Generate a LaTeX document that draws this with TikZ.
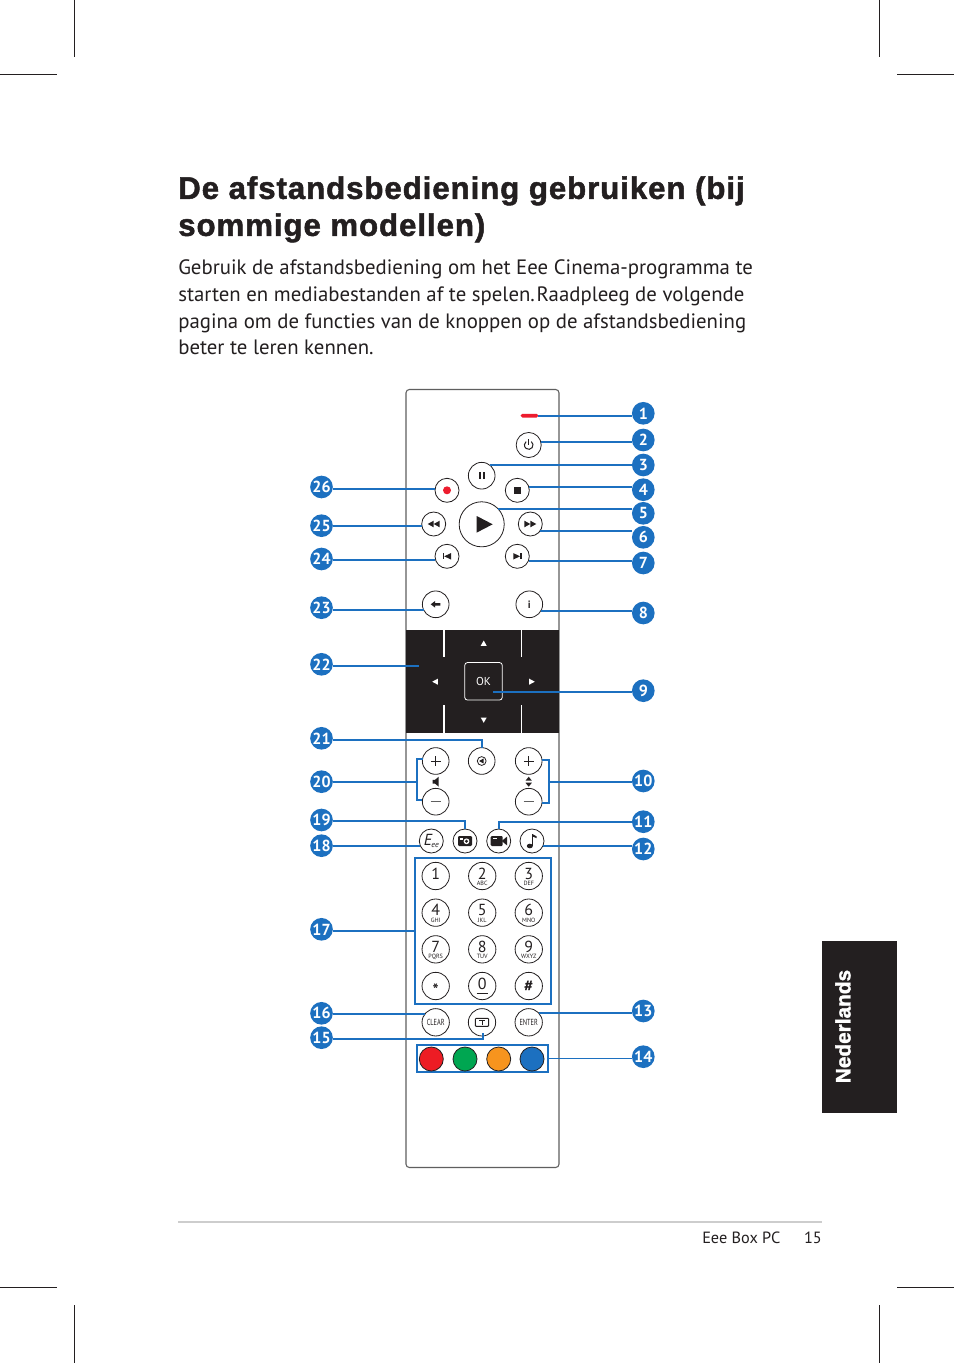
\documentclass[tikz,border=0pt]{standalone}
\usepackage{fontspec}
\usepackage{graphicx}
\setmainfont{PT Sans}
\newfontfamily\headfont[BoldFeatures={FakeBold=1.6}]{Liberation Sans}
\newfontfamily\widefont[BoldFeatures={FakeBold=1.6,LetterSpace=3}]{Liberation Sans}
\usetikzlibrary{positioning,calc}
\definecolor{ink}     {RGB}{35, 31, 32}
\definecolor{edgegray}{RGB}{95, 95, 95}
\definecolor{rulegray}{RGB}{205,205,205}
\definecolor{callblue}{RGB}{28,112,192}
\definecolor{ledred}  {RGB}{237, 28, 46}
\definecolor{btnred}  {RGB}{237, 28, 36}
\definecolor{btngreen}{RGB}{0, 166, 81}
\definecolor{btnorange}{RGB}{247,148, 30}
\tikzset{
  badge/.style={circle,fill=callblue,text=white,inner sep=0pt,minimum size=17pt,
                font=\fontsize{12}{12}\selectfont\bfseries},
  lead/.style={draw=callblue,line width=1.35pt},
  leadbox/.style={lead,inner sep=0pt,outer sep=0pt},
  btn/.style={circle,draw=ink,fill=white,line width=0.6pt,inner sep=0pt,outer sep=0pt,
              minimum size=18pt},
  btnbig/.style={btn,minimum size=20pt},
  numkey/.style 2 args={btn,minimum size=20.5pt,
              label={[keynum]center:#1},label={[keysub]center:#2}},
  keynum/.style={font=\fontsize{12}{12}\selectfont,yshift=1.8pt,inner sep=0pt},
  keysub/.style={font=\fontsize{4.6}{4.6}\selectfont,yshift=-5.6pt,inner sep=0pt},
  colbtn/.style={btn,minimum size=18pt},
  crop/.style={draw=ink,line width=0.5pt},
  pics/tridown/.style={code={\fill (-3,-2.5) -- (3,-2.5) -- (0,2.8) -- cycle;}},
  pics/triup/.style={code={\fill (-3,2.5) -- (3,2.5) -- (0,-2.8) -- cycle;}},
  pics/trileft/.style={code={\fill (2.8,-3) -- (2.8,3) -- (-2.8,0) -- cycle;}},
  pics/triright/.style={code={\fill (-2.8,-3) -- (-2.8,3) -- (2.8,0) -- cycle;}},
  pics/poweric/.style={code={
    \draw[line width=0.75pt] (2.6,-3.4) arc (-53:233:4.3);
    \draw[line width=0.75pt] (0,-6) -- (0,-0.5);}},
  pics/pauseic/.style={code={\fill (-3.2,-3.4) rectangle (-1,3.4);\fill (1,-3.4) rectangle (3.2,3.4);}},
  pics/rewic/.style={code={\fill (0,-3.3) -- (0,3.3) -- (-6,0) -- cycle;\fill (6,-3.3) -- (6,3.3) -- (0,0) -- cycle;}},
  pics/fwdic/.style={code={\fill (0,-3.3) -- (0,3.3) -- (6,0) -- cycle;\fill (-6,-3.3) -- (-6,3.3) -- (0,0) -- cycle;}},
  pics/previc/.style={code={\fill (-4.2,-3) rectangle (-2.8,3);\fill (4,-3.2) -- (4,3.2) -- (-2.8,0) -- cycle;}},
  pics/nextic/.style={code={\fill (4.2,-3) rectangle (2.8,3);\fill (-4,-3.2) -- (-4,3.2) -- (2.8,0) -- cycle;}},
  pics/backic/.style={code={\fill (-5,0) -- (-0.5,-3.4) -- (-0.5,-1.3) -- (4.6,-1.3) -- (4.6,1.3) -- (-0.5,1.3) -- (-0.5,3.4) -- cycle;}},
  pics/muteic/.style={code={
    \draw[line width=0.6pt] (0,0) circle (4.4);
    \fill (2,-2.6) -- (2,2.6) -- (-2.6,0) -- cycle;}},
  pics/speakic/.style={code={\fill (-3.2,-1.8) -- (-0.8,-1.8) -- (3,-5) -- (3,5) -- (-0.8,1.8) -- (-3.2,1.8) -- cycle;}},
  pics/updownic/.style={code={\fill (-3.2,-1) -- (3.2,-1) -- (0,-5) -- cycle;\fill (-3.2,1) -- (3.2,1) -- (0,5) -- cycle;}},
  pics/plusic/.style={code={\draw[line width=0.6pt] (-4.8,0) -- (4.8,0) (0,-4.8) -- (0,4.8);}},
  pics/minusic/.style={code={\draw[line width=0.6pt,edgegray] (-5,0) -- (5,0);}},
  pics/photoic/.style={code={
    \fill[rounded corners=0.8pt] (-7,-5) rectangle (7,5);
    \fill[white] (1.5,0.3) circle (2.9);
    \fill (1.5,0.3) circle (1.6);
    \fill[white] (-5,-3) rectangle (-2,-1.5);}},
  pics/videoic/.style={code={
    \fill[rounded corners=0.8pt] (-8,-5) rectangle (4,5);
    \fill (3,0) -- (8.5,-4.5) -- (8.5,4.5) -- cycle;
    \fill[white] (-6,-3) rectangle (-2,-1.8);}},
  pics/musicic/.style={code={
    \fill (-2.2,5) ellipse (3 and 2.3);
    \draw[line width=1pt] (0.4,5) -- (0.4,-7);
    \fill (0.4,-7) -- (4.6,-4.6) -- (4.6,-2.8) -- (0.4,-4.6) -- cycle;}},
  pics/tvic/.style={code={
    \draw[line width=0.7pt,rounded corners=0.6pt] (-6.6,-4) rectangle (6.6,4);
    \draw[line width=0.7pt] (-2.6,-1.8) -- (2.6,-1.8) (0,-1.8) -- (0,2.4);}},
}
\begin{document}
\begin{tikzpicture}[x=0.75pt,y=-0.75pt,color=ink]
  \useasboundingbox (0,0) rectangle (954,1363);
  \fill[white] (0,0) rectangle (954,1363);

  % Crop marks
  \draw[crop] (74.5,0) -- (74.5,57) (0,74.5) -- (57,74.5);
  \draw[crop] (879.5,0) -- (879.5,57) (897,74.5) -- (954,74.5);
  \draw[crop] (74.5,1305) -- (74.5,1363) (0,1287) -- (57,1287);
  \draw[crop] (879.5,1305) -- (879.5,1363) (897,1287) -- (954,1287);

  % Text block
  \node[anchor=north west,inner sep=0pt,align=left,text=ink,
        font=\widefont\bfseries\fontsize{23.4}{27.75}\selectfont] (TITLE) at (178,176)
        {De afstandsbediening gebruiken (bij\\sommige modellen)};
  \node[anchor=north west,inner sep=0pt,align=left,text=ink,
        font=\fontsize{15.6}{20.05}\selectfont] (INTRO) at (178,259.5)
        {Gebruik de afstandsbediening om het Eee Cinema-programma te\\
         starten en mediabestanden af te spelen.\kern 1.2pt Raadpleeg de volgende\\
         pagina om de functies van de knoppen op de afstandsbediening\\
         beter te leren kennen.};

  % Remote body and black pad
  \draw[edgegray,fill=white,line width=0.8pt,rounded corners=2.5pt] (406,389.5) rectangle (559,1167.5);
  \fill[ink] (406,630.3) rectangle (559,733);
  \draw[white,line width=1.1pt] (444,630.3) -- (444,656.7) (521.5,630.3) -- (521.5,656.7);
  \draw[white,line width=1.1pt] (444,705) -- (444,733) (521.5,705) -- (521.5,733);

  % Blue frames
  \node[leadbox,minimum width=102pt,minimum height=109.3pt] (KEYPAD) at (483,931.2) {};
  \node[leadbox,minimum width=98.7pt,minimum height=20.25pt] (COLORS) at (482.5,1058.5) {};

  % Upper buttons
  \node[fill=ledred,rounded corners=1.2pt,inner sep=0pt,outer sep=0pt,
        minimum width=13.2pt,minimum height=2.7pt] (LED) at (529.5,415.7) {};
  \node[btn,minimum size=18.8pt](POWER)  at (528.7,445)   {};
  \node[btnbig](PAUSE)                   at (481.7,475.7) {};
  \node[btn](STOP)                       at (517.3,490.3) {};
  \node[btn](REC)                        at (447,490.3)   {};
  \node[btn,minimum size=33.8pt](PLAY)   at (481.7,524.3) {};
  \node[btn](REW)                        at (433.7,524)   {};
  \node[btn](FWD)                        at (530.3,524)   {};
  \node[btn](PREV)                       at (447,556.3)   {};
  \node[btn](NEXT)                       at (517.3,556.3) {};
  \node[btnbig](BACK)                    at (435.7,604.3) {};
  \node[btnbig,font=\fontsize{8}{8}\selectfont\bfseries](INFO) at (529.3,604.3) {i};

  % Icons of upper buttons
  \pic at (POWER) {poweric};
  \pic at (PAUSE) {pauseic};
  \fill (513.8,486.8) rectangle (520.8,493.8);
  \fill[ledred] (447,490.3) circle (4);
  \fill (476.7,516) -- (476.7,532.6) -- (492.7,524.3) -- cycle;
  \pic at (REW) {rewic};
  \pic at (FWD) {fwdic};
  \pic at (PREV) {previc};
  \pic at (NEXT) {nextic};
  \pic at (BACK) {backic};

  % Pad
  \node[draw=white,fill=ink,text=white,line width=0.6pt,rounded corners=2pt,inner sep=0pt,
        outer sep=0pt,minimum size=28.1pt,font=\fontsize{8.6}{8.6}\selectfont](OK) at (483.5,681.3) {OK};
  \coordinate (OK_END) at (493.3,691.7);
  \coordinate (PAD_END) at (419,665.7);
  \pic[white] at (483.7,643.3) {triup};
  \pic[white] at (483.7,720)   {tridown};
  \pic[white] at (435,681.7)   {trileft};
  \pic[white] at (532,681.7)   {triright};

  % Volume and channel
  \node[btnbig](MUTE)     at (481.7,761)   {};
  \node[btnbig](VOL_UP)   at (435.7,761)   {};
  \node[btnbig](VOL_DOWN) at (435.7,801.7) {};
  \node[btnbig](CH_UP)    at (528.7,761)   {};
  \node[btnbig](CH_DOWN)  at (528.7,801.7) {};
  \pic at (MUTE) {muteic};
  \pic at (VOL_UP) {plusic};
  \pic at (VOL_DOWN) {minusic};
  \pic at (CH_UP) {plusic};
  \pic at (CH_DOWN) {minusic};
  \pic at (435.7,781.7) {speakic};
  \pic at (528.7,781.7) {updownic};

  % Media row
  \node[btn,inner sep=0pt,font=\fontsize{12}{12}\selectfont\itshape](EEE) at (431.3,841)
        {E\kern-0.5pt\raisebox{-1pt}{\fontsize{6}{6}\selectfont ee}};
  \node[btn](PHOTO) at (465,841)   {};
  \node[btn](VIDEO) at (498.7,841) {};
  \node[btn](MUSIC) at (532,841)   {};
  \pic at (PHOTO) {photoic};
  \pic at (VIDEO) {videoic};
  \pic at (MUSIC) {musicic};

  % Keypad
  \begin{scope}[on grid,node distance=27.5pt and 34.9pt]
    \node[numkey={1}{}](K1) at (435.7,876) {};
    \node[numkey={2}{ABC},right=of K1](K2) {};
    \node[numkey={3}{DEF},right=of K2](K3) {};
    \node[numkey={4}{GHI},below=of K1](K4) {};
    \node[numkey={5}{JKL},right=of K4](K5) {};
    \node[numkey={6}{MNO},right=of K5](K6) {};
    \node[numkey={7}{PQRS},below=of K4](K7) {};
    \node[numkey={8}{TUV},right=of K7](K8) {};
    \node[numkey={9}{WXYZ},right=of K8](K9) {};
    \node[btn,minimum size=20.5pt,label={[keynum,yshift=-4.4pt]center:\bfseries *},below=of K7](K_STAR) {};
    \node[numkey={0}{\rule{8.5pt}{0.5pt}},right=of K_STAR](K0) {};
    \node[btn,minimum size=20.5pt,label={[keynum,yshift=-1.8pt]center:\bfseries\#},right=of K0](K_HASH) {};
  \end{scope}

  % Bottom rows
  \node[btn,minimum size=20.5pt,font=\fontsize{6.6}{6.6}\selectfont](CLEAR) at (435.7,1022.3) {\scalebox{0.72}[1]{CLEAR}};
  \node[btn,minimum size=20.5pt](TELE) at (482,1022.3) {};
  \node[btn,minimum size=20.5pt,font=\fontsize{6.6}{6.6}\selectfont](ENTER) at (528.7,1022.3) {\scalebox{0.72}[1]{ENTER}};
  \pic at (TELE) {tvic};
  \coordinate (TELE_END) at (483.3,1032.5);
  \node[colbtn,fill=btnred](C_RED)       at (431.3,1059) {};
  \node[colbtn,fill=btngreen](C_GREEN)   at (465,1059)   {};
  \node[colbtn,fill=btnorange](C_ORANGE) at (498.7,1059) {};
  \node[colbtn,fill=callblue](C_BLUE)    at (532,1059)   {};

  % Badges right
  \node[badge](N1)  at (643.3,413.3) {1};
  \node[badge](N2)  at (643.3,440)   {2};
  \node[badge](N3)  at (643.3,465)   {3};
  \node[badge](N4)  at (643.3,489.7) {4};
  \node[badge](N5)  at (643.3,513.3) {5};
  \node[badge](N6)  at (643.3,537.3) {6};
  \node[badge](N7)  at (643.3,563)   {7};
  \node[badge](N8)  at (643.3,613)   {8};
  \node[badge](N9)  at (643.3,690.7) {9};
  \node[badge](N10) at (643.3,781)   {10};
  \node[badge](N11) at (643.3,821.7) {11};
  \node[badge](N12) at (643.3,849)   {12};
  \node[badge](N13) at (643.3,1011)  {13};
  \node[badge](N14) at (643.3,1056.7){14};
  % Badges left
  \node[badge](N15) at (321.5,1037.7){15};
  \node[badge](N16) at (321.5,1013.3){16};
  \node[badge](N17) at (321.5,929.3) {17};
  \node[badge](N18) at (321.5,845.7) {18};
  \node[badge](N19) at (321.5,820)   {19};
  \node[badge](N20) at (321.5,781.7) {20};
  \node[badge](N21) at (321.5,738.3) {21};
  \node[badge](N22) at (321.5,664.3) {22};
  \node[badge](N23) at (321.5,607.7) {23};
  \node[badge](N24) at (321.5,559)   {24};
  \node[badge](N25) at (321.5,525.7) {25};
  \node[badge](N26) at (321.5,487)   {26};

  % Leads right
  \draw[lead](LED.east)     -- (N1.west |- LED.east);
  \draw[lead](POWER.15)     -- (N2.west |- POWER.15);
  \draw[lead](PAUSE.54)     -- (N3.west |- PAUSE.54);
  \draw[lead](STOP.16)      -- (N4.west |- STOP.16);
  \draw[lead](PLAY.43)      -- (N5.west |- PLAY.43);
  \draw[lead](FWD.-34)      -- (N6.west |- FWD.-34);
  \draw[lead](NEXT.-21)     -- (N7.west |- NEXT.-21);
  \draw[lead](INFO.-30)     -- (N8.west |- INFO.-30);
  \draw[lead](OK_END)       -- (N9.west |- OK_END);
  \coordinate (BR10) at (548.7,781.7);
  \draw[lead](CH_UP.5) -| (BR10) |- (CH_DOWN.-5);
  \draw[lead](BR10)         -- (N10.west |- BR10);
  \draw[lead](VIDEO.north)  |- (N11.west);
  \draw[lead](MUSIC.-23)    -- (N12.west |- MUSIC.-23);
  \draw[lead](ENTER.44)     -- (N13.west |- ENTER.44);
  \draw[lead](COLORS.east)  -- (N14.west |- COLORS.east);

  % Leads left
  \draw[lead](N15.east |- 0,1038.7) -| (TELE_END);
  \draw[lead](CLEAR.143)    -- (N16.east |- CLEAR.143);
  \draw[lead](KEYPAD.west)  -- (N17.east |- KEYPAD.west);
  \draw[lead](EEE.203)      -- (N18.east |- EEE.203);
  \draw[lead](N19.east |- 0,821) -| (PHOTO.north);
  \coordinate (BR20) at (417,782.3);
  \draw[lead](VOL_UP.171) -| (BR20) |- (VOL_DOWN.174);
  \draw[lead](BR20)         -- (N20.east |- BR20);
  \draw[lead](N21.east |- 0,740) -| (MUTE.north);
  \draw[lead](PAD_END)      -- (N22.east |- PAD_END);
  \draw[lead](BACK.205)     -- (N23.east |- BACK.205);
  \draw[lead](PREV.196)     -- (N24.east |- PREV.196);
  \draw[lead](REW.188)      -- (N25.east |- REW.188);
  \draw[lead](REC.172)      -- (N26.east |- REC.172);

  % Side tab and footer
  \fill[ink] (822,941) rectangle (896.7,1112.7);
  \node[rotate=90,text=white,inner sep=0pt,
        font=\headfont\bfseries\fontsize{15.6}{15.6}\selectfont] (SIDE_LABEL) at (843,1026.5) {Nederlands};
  \draw[rulegray,line width=1pt] (178,1222) -- (822,1222);
  \node[anchor=base west,inner sep=0pt,text=ink,font=\fontsize{12.2}{12.2}\selectfont] (FOOT_NAME) at (702,1243) {Eee Box PC};
  \node[anchor=base east,inner sep=0pt,text=ink,font=\fontsize{12.2}{12.2}\selectfont] (FOOT_PAGE) at (822,1243) {15};
\end{tikzpicture}
\end{document}
